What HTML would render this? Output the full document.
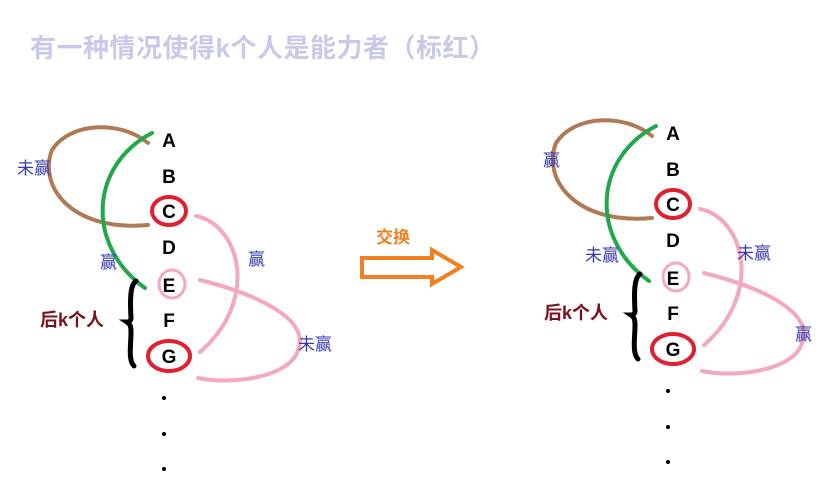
<!DOCTYPE html>
<html><head><meta charset="utf-8"><style>
body{margin:0;background:#fff;width:823px;height:489px;overflow:hidden}
svg text{font-family:"Liberation Sans","Noto Sans CJK SC",sans-serif}
</style></head><body>
<svg width="823" height="489" viewBox="0 0 823 489" xmlns="http://www.w3.org/2000/svg">
<text x="30" y="57" font-size="26" font-weight="bold" fill="#c9c9e9" letter-spacing="0.5">有一种情况使得k个人是能力者（标红）</text>
<defs>
<g id="d">
<path d="M148,143 C120,120 70,122 52,150 C38,185 70,232 148,225" fill="none" stroke="#b07a55" stroke-width="4" stroke-linecap="round"/>
<path d="M152,133 C90,165 85,245 145,288" fill="none" stroke="#22a84a" stroke-width="4" stroke-linecap="round"/>
<path d="M196,216 C240,225 260,300 200,352" fill="none" stroke="#f4a8c0" stroke-width="4" stroke-linecap="round"/>
<path d="M200,280 C260,295 310,320 298,350 C290,378 230,385 198,378" fill="none" stroke="#f4a8c0" stroke-width="4" stroke-linecap="round"/>
<ellipse cx="169" cy="211" rx="17" ry="14" fill="none" stroke="#e02030" stroke-width="4"/>
<ellipse cx="172" cy="284" rx="13" ry="14" fill="none" stroke="#f4a8c0" stroke-width="3"/>
<ellipse cx="169" cy="356" rx="21" ry="15" fill="none" stroke="#e02030" stroke-width="4"/>
<path d="M136,281 C130,285 130,300 131,318 C131,322 127,322 127,322 C130,324 131,326 131,332 C131,345 128,360 134,366" fill="none" stroke="#000" stroke-width="5" stroke-linecap="round"/>
<g font-size="19" font-weight="bold" fill="#000" text-anchor="middle">
<text x="169" y="147">A</text><text x="169" y="183">B</text><text x="169" y="218">C</text><text x="169" y="254">D</text><text x="169" y="292">E</text><text x="169" y="327">F</text><text x="169" y="363">G</text>
</g>
<circle cx="164" cy="398" r="2" fill="#000"/><circle cx="164" cy="434" r="2" fill="#000"/><circle cx="164" cy="469" r="2" fill="#000"/>
<text x="40" y="326" font-size="18" font-weight="bold" fill="#7a1020">后k个人</text>
</g>
</defs>
<use href="#d"/>
<use href="#d" transform="translate(504,-7)"/>
<g font-size="17" fill="#3a3ab0">
<text x="17" y="174">未赢</text><text x="100" y="268">赢</text><text x="248" y="265">赢</text><text x="298" y="350">未赢</text>
<text x="543" y="166">赢</text><text x="585" y="261">未赢</text><text x="737" y="259">未赢</text><text x="795" y="340">赢</text>
</g>
<text x="376" y="243" font-size="17" font-weight="bold" fill="#f08020">交换</text>
<path d="M362,258 L432,258 L432,250 L461,267 L432,284 L432,277 L362,277 Z" fill="#fff" stroke="#f08020" stroke-width="4" stroke-linejoin="miter"/>
</svg>
</body></html>
